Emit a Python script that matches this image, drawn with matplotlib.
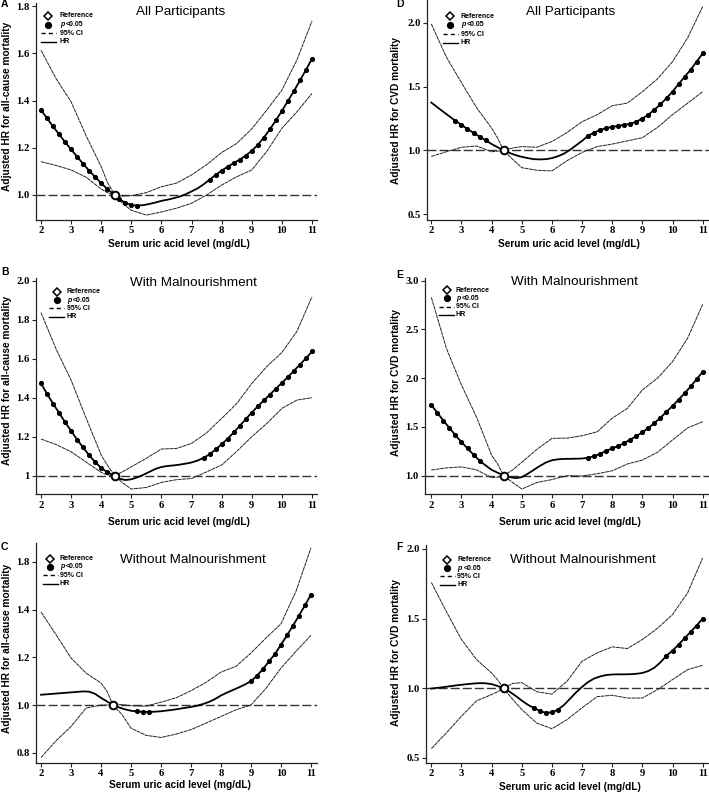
import numpy as np
import matplotlib
matplotlib.use("Agg")
import matplotlib.pyplot as plt
from matplotlib.lines import Line2D

W, H = 709, 793
SANS = "Liberation Sans"
SERIF = "Liberation Serif"
plt.rcParams["font.family"] = [SERIF, "DejaVu Serif"]
plt.rcParams["font.weight"] = "bold"

# ---------------- data ----------------
grid = np.round(np.arange(2.0, 11.0001, 0.2), 1)   # HR evaluated every 0.2 mg/dL

titles = ["All Participants", "With Malnourishment", "Without Malnourishment"]
ylab_all = "Adjusted HR for all-cause mortality"
ylab_cvd = "Adjusted HR for CVD mortality"
xlab = "Serum uric acid level (mg/dL)"

# Panel A (all-cause, all participants)
ref_A = 4.45
hr_A = [1.360, 1.325, 1.290, 1.257, 1.224, 1.193, 1.162, 1.132, 1.103, 1.076, 1.050,
        1.025, 1.005, 0.982, 0.967, 0.958, 0.955, 0.957, 0.962, 0.968, 0.975, 0.980,
        0.986, 0.993, 1.003, 1.015, 1.028, 1.045, 1.065, 1.085, 1.103, 1.120, 1.135,
        1.150, 1.167, 1.187, 1.212, 1.243, 1.278, 1.316, 1.356, 1.398, 1.440, 1.485,
        1.530, 1.577]
sig_A = [(2.0, 4.2), (4.6, 5.2), (7.6, 11.0)]
ci_x_A = [2.0, 2.5, 3.0, 3.5, 4.0, 4.2, 4.45, 4.7, 5.0, 5.5, 6.0, 6.5, 7.0, 7.5, 8.0,
          8.5, 9.0, 9.5, 10.0, 10.5, 11.0]
up_A = [1.613, 1.493, 1.394, 1.250, 1.120, 1.055, 1.000, 0.995, 0.997, 1.010, 1.035,
        1.050, 1.085, 1.128, 1.180, 1.218, 1.280, 1.360, 1.444, 1.572, 1.737]
lo_A = [1.141, 1.125, 1.106, 1.075, 1.025, 1.010, 1.000, 0.965, 0.935, 0.915, 0.928,
        0.944, 0.965, 1.000, 1.042, 1.077, 1.106, 1.185, 1.282, 1.352, 1.430]

# Panel B (all-cause, with malnourishment)
ref_B = 4.45
hr_B = [1.473, 1.420, 1.370, 1.322, 1.275, 1.230, 1.185, 1.145, 1.105, 1.070, 1.040,
        1.018, 1.003, 0.985, 0.978, 0.982, 0.992, 1.005, 1.020, 1.035, 1.045, 1.050,
        1.053, 1.057, 1.062, 1.068, 1.078, 1.092, 1.110, 1.135, 1.162, 1.190, 1.222,
        1.256, 1.290, 1.324, 1.356, 1.386, 1.416, 1.446, 1.476, 1.506, 1.538, 1.570,
        1.602, 1.637]
sig_B = [(2.0, 4.2), (7.4, 11.0)]
ci_x_B = [2.0, 2.5, 3.0, 3.5, 4.0, 4.2, 4.45, 4.7, 5.0, 5.5, 6.0, 6.5, 7.0, 7.5, 8.0,
          8.5, 9.0, 9.5, 10.0, 10.5, 11.0]
up_B = [1.836, 1.650, 1.490, 1.295, 1.106, 1.055, 1.000, 1.020, 1.046, 1.090, 1.137,
        1.140, 1.166, 1.220, 1.294, 1.370, 1.473, 1.560, 1.632, 1.740, 1.918]
lo_B = [1.188, 1.160, 1.123, 1.070, 1.017, 1.005, 1.000, 0.965, 0.932, 0.940, 0.966,
        0.980, 0.986, 1.020, 1.055, 1.125, 1.200, 1.268, 1.345, 1.388, 1.400]

# Panel C (all-cause, without malnourishment)
ref_C = 4.4
hr_C = [1.043, 1.045, 1.047, 1.049, 1.051, 1.053, 1.055, 1.057, 1.056, 1.047, 1.030,
        1.015, 1.000, 0.990, 0.982, 0.976, 0.973, 0.971, 0.971, 0.972, 0.974, 0.977,
        0.980, 0.984, 0.988, 0.992, 0.997, 1.004, 1.013, 1.025, 1.040, 1.052, 1.063,
        1.074, 1.086, 1.100, 1.123, 1.151, 1.183, 1.214, 1.253, 1.292, 1.333, 1.375,
        1.418, 1.463]
sig_C = [(5.2, 5.6), (9.0, 11.0)]
ci_x_C = [2.0, 2.5, 3.0, 3.5, 4.0, 4.2, 4.4, 4.7, 5.0, 5.5, 6.0, 6.5, 7.0, 7.5, 8.0,
          8.5, 9.0, 9.5, 10.0, 10.5, 11.0]
up_C = [1.390, 1.295, 1.197, 1.134, 1.092, 1.057, 1.000, 1.002, 0.997, 0.995, 1.012,
        1.030, 1.060, 1.095, 1.138, 1.162, 1.218, 1.281, 1.340, 1.477, 1.659]
lo_C = [0.780, 0.850, 0.910, 0.987, 1.000, 1.000, 1.000, 0.960, 0.903, 0.873, 0.864,
        0.878, 0.897, 0.924, 0.952, 0.980, 1.000, 1.070, 1.155, 1.225, 1.292]
ytick_C = [0.8, 1.0, 1.2, 1.4, 1.6]
ylabels_C = ["0.8", "1.0", "1.2", "1.4", "1.8"]

# Panel D (CVD, all participants)
ref_D = 4.4
hr_D = [1.375, 1.338, 1.302, 1.267, 1.232, 1.200, 1.168, 1.138, 1.108, 1.080, 1.050,
        1.025, 1.000, 0.980, 0.963, 0.950, 0.940, 0.932, 0.930, 0.932, 0.940, 0.955,
        0.975, 1.005, 1.040, 1.075, 1.115, 1.140, 1.160, 1.175, 1.185, 1.193, 1.200,
        1.210, 1.225, 1.250, 1.280, 1.320, 1.360, 1.410, 1.460, 1.520, 1.575, 1.632,
        1.695, 1.760]
sig_D = [(2.8, 3.8), (7.2, 11.0)]
ci_x_D = [2.0, 2.5, 3.0, 3.5, 4.0, 4.2, 4.4, 4.7, 5.0, 5.5, 6.0, 6.5, 7.0, 7.5, 8.0,
          8.5, 9.0, 9.5, 10.0, 10.5, 11.0]
up_D = [1.990, 1.730, 1.530, 1.335, 1.175, 1.096, 1.000, 1.020, 1.030, 1.025, 1.070,
        1.140, 1.225, 1.280, 1.350, 1.370, 1.460, 1.560, 1.695, 1.880, 2.125]
lo_D = [0.953, 0.990, 1.025, 1.035, 0.990, 0.995, 1.000, 0.930, 0.865, 0.845, 0.840,
        0.920, 0.985, 1.030, 1.050, 1.075, 1.100, 1.180, 1.280, 1.370, 1.460]

# Panel E (CVD, with malnourishment)
ref_E = 4.4
hr_E = [1.725, 1.645, 1.565, 1.490, 1.415, 1.345, 1.280, 1.215, 1.155, 1.105, 1.060,
        1.030, 1.005, 0.985, 0.975, 0.985, 1.020, 1.060, 1.100, 1.135, 1.158, 1.168,
        1.172, 1.173, 1.174, 1.176, 1.185, 1.200, 1.225, 1.255, 1.280, 1.305, 1.335,
        1.370, 1.405, 1.445, 1.490, 1.540, 1.595, 1.655, 1.715, 1.780, 1.845, 1.915,
        1.990, 2.065]
sig_E = [(2.0, 3.6), (7.2, 11.0)]
ci_x_E = [2.0, 2.5, 3.0, 3.5, 4.0, 4.2, 4.4, 4.7, 5.0, 5.5, 6.0, 6.5, 7.0, 7.5, 8.0,
          8.5, 9.0, 9.5, 10.0, 10.5, 11.0]
up_E = [2.830, 2.306, 1.930, 1.600, 1.210, 1.120, 1.000, 1.060, 1.137, 1.270, 1.383,
        1.385, 1.410, 1.450, 1.590, 1.690, 1.880, 2.000, 2.170, 2.410, 2.757]
lo_E = [1.058, 1.080, 1.090, 1.060, 0.980, 0.985, 1.000, 0.930, 0.863, 0.930, 0.960,
        1.000, 0.997, 1.020, 1.050, 1.120, 1.160, 1.240, 1.366, 1.490, 1.554]

# Panel F (CVD, without malnourishment)
ref_F = 4.4
hr_F = [0.998, 1.003, 1.008, 1.014, 1.020, 1.025, 1.030, 1.034, 1.037, 1.036, 1.030,
        1.016, 1.000, 0.975, 0.945, 0.912, 0.882, 0.859, 0.837, 0.824, 0.828, 0.847,
        0.880, 0.925, 0.970, 1.010, 1.045, 1.070, 1.085, 1.095, 1.099, 1.100, 1.100,
        1.101, 1.104, 1.110, 1.124, 1.148, 1.186, 1.234, 1.270, 1.313, 1.359, 1.404,
        1.450, 1.500]
sig_F = [(5.4, 6.2), (9.8, 11.0)]
ci_x_F = [2.0, 2.5, 3.0, 3.5, 4.0, 4.2, 4.4, 4.7, 5.0, 5.5, 6.0, 6.5, 7.0, 7.5, 8.0,
          8.5, 9.0, 9.5, 10.0, 10.5, 11.0]
up_F = [1.760, 1.550, 1.350, 1.206, 1.110, 1.060, 1.000, 1.035, 1.040, 0.975, 0.958,
        1.050, 1.194, 1.254, 1.297, 1.285, 1.350, 1.430, 1.529, 1.684, 1.935]
lo_F = [0.567, 0.680, 0.800, 0.910, 0.955, 0.975, 1.000, 0.920, 0.847, 0.750, 0.710,
        0.775, 0.860, 0.940, 0.950, 0.930, 0.930, 0.990, 1.062, 1.134, 1.165]

xticks = [2, 3, 4, 5, 6, 7, 8, 9, 10, 11]
legend_labels = ["Reference", "<0.05", "95% CI", "HR"]

# ---------------- layout (pixels) ----------------
fig = plt.figure(figsize=(W / 100, H / 100), dpi=100)


def fpx(px, py):
    return px / W, 1 - py / H


panels = [
    dict(letter="A", box=(36, 3, 317, 220), xlim=(1.834, 11.166), ylim=(0.894, 1.813),
         yt=[1.0, 1.2, 1.4, 1.6, 1.8], ytl=["1.0", "1.2", "1.4", "1.6", "1.8"],
         data=(ref_A, hr_A, sig_A, ci_x_A, up_A, lo_A), title=titles[0], ylab=ylab_all,
         let=(1, 4), tit=(181, 12), yl=(6.7, 106.7), xl=(179, 244),
         leg=(48.3, 60, [15.7, 24.7, 33.3, 41.7])),
    dict(letter="D", box=(426.7, 0, 709, 220), xlim=(1.847, 11.209), ylim=(0.456, 2.177),
         yt=[0.5, 1.0, 1.5, 2.0], ytl=["0.5", "1.0", "1.5", "2.0"],
         data=(ref_D, hr_D, sig_D, ci_x_D, up_D, lo_D), title=titles[0], ylab=ylab_cvd,
         let=(396, 4), tit=(570.7, 12.3), yl=(395.7, 110), xl=(569, 244),
         leg=(450, 460.7, [16, 25, 34, 42.7])),
    dict(letter="B", box=(36, 278.3, 317, 494.3), xlim=(1.834, 11.166), ylim=(0.905, 2.012),
         yt=[1.0, 1.2, 1.4, 1.6, 1.8, 2.0], ytl=["1", "1.2", "1.4", "1.6", "1.8", "2.0"],
         data=(ref_B, hr_B, sig_B, ci_x_B, up_B, lo_B), title=titles[1], ylab=ylab_all,
         let=(1, 272), tit=(193.7, 283.3), yl=(6.7, 380.7), xl=(179, 521.7),
         leg=(56.7, 66.7, [291.7, 300, 308.3, 316.7])),
    dict(letter="E", box=(425, 278.3, 709, 494.3), xlim=(1.79, 11.21), ylim=(0.809, 3.025),
         yt=[1.0, 1.5, 2.0, 2.5, 3.0], ytl=["1.0", "1.5", "2.0", "2.5", "3.0"],
         data=(ref_E, hr_E, sig_E, ci_x_E, up_E, lo_E), title=titles[1], ylab=ylab_cvd,
         let=(396, 275), tit=(574, 282.3), yl=(395.7, 382.3), xl=(569.7, 521.7),
         leg=(446.7, 455.7, [290, 298.3, 306.7, 315])),
    dict(letter="C", box=(36, 543, 317, 763), xlim=(1.833, 11.2), ylim=(0.757, 1.679),
         yt=ytick_C, ytl=ylabels_C,
         data=(ref_C, hr_C, sig_C, ci_x_C, up_C, lo_C), title=titles[2], ylab=ylab_all,
         let=(1, 547), tit=(192.5, 559.7), yl=(6.7, 648.7), xl=(180, 785),
         leg=(50, 60, [558.7, 567, 575.3, 583.7])),
    dict(letter="F", box=(425.7, 544.7, 709, 763), xlim=(1.814, 11.21), ylim=(0.464, 2.03),
         yt=[0.5, 1.0, 1.5, 2.0], ytl=["0.5", "1.0", "1.5", "2.0"],
         data=(ref_F, hr_F, sig_F, ci_x_F, up_F, lo_F), title=titles[2], ylab=ylab_cvd,
         let=(396, 547), tit=(583, 560.3), yl=(395.7, 652), xl=(570, 787.3),
         leg=(447.3, 457.3, [559.7, 568, 576.3, 584.7])),
]

for p in panels:
    x0, yt0, x1, yb = p["box"]
    ax = fig.add_axes([x0 / W, 1 - yb / H, (x1 - x0) / W, (yb - yt0) / H])
    ax.set_facecolor("none")
    for s in ("top", "right"):
        ax.spines[s].set_visible(False)
    for s in ("left", "bottom"):
        ax.spines[s].set_linewidth(0.9)
        ax.spines[s].set_color("#222222")
    ax.set_xlim(*p["xlim"])
    ax.set_ylim(*p["ylim"])
    ax.tick_params(direction="out", length=3, width=0.8, pad=1.5, color="#222222",
                   labelsize=7.7)
    ax.set_xticks(xticks, [str(t) for t in xticks])
    ax.set_yticks(p["yt"], p["ytl"])
    for lbl in ax.get_xticklabels() + ax.get_yticklabels():
        lbl.set_fontfamily(SERIF)
        lbl.set_fontweight("bold")

    ref_x, hr, sig, cx, up, lo = p["data"]
    hr = np.asarray(hr)
    ax.axhline(1.0, color="#333333", lw=1.0, dashes=(6.5, 2.2), zorder=1)
    ax.plot(cx, up, color="#222222", lw=0.7, dashes=(4.0, 0.6), zorder=2)
    ax.plot(cx, lo, color="#222222", lw=0.7, dashes=(4.0, 0.6), zorder=2)
    lx = np.concatenate([grid, [ref_x]])
    ly = np.concatenate([hr, [1.0]])
    order = np.argsort(lx, kind="stable")
    ax.plot(lx[order], ly[order], color="black", lw=1.3, zorder=3)
    mask = np.zeros(len(grid), bool)
    for a, b in sig:
        mask |= (grid >= a - 1e-9) & (grid <= b + 1e-9)
    ax.plot(grid[mask], hr[mask], "o", color="black", ms=2.7, ls="none", zorder=4)
    ax.plot([ref_x], [1.0], "o", mfc="white", mec="black", ms=5.5, mew=1.4, zorder=5)

    # axis labels
    ax.set_xlabel(xlab, fontfamily=SANS, fontweight="bold", fontsize=7.3)
    ax.set_ylabel(p["ylab"], fontfamily=SANS, fontweight="bold", fontsize=7.3)
    inv = ax.transAxes.inverted()
    xlp = inv.transform(fig.transFigure.transform(fpx(*p["xl"])))
    ylp = inv.transform(fig.transFigure.transform(fpx(*p["yl"])))
    ax.xaxis.set_label_coords(xlp[0], xlp[1])
    ax.xaxis.label.set_va("center")
    ax.yaxis.set_label_coords(ylp[0], ylp[1])
    ax.yaxis.label.set_va("center")

    # panel letter and title
    fig.text(*fpx(*p["let"]), p["letter"], fontfamily=SANS, fontweight="bold",
             fontsize=7.5, ha="left", va="center")
    fig.text(*fpx(*p["tit"]), p["title"], fontfamily=SANS, fontweight="normal",
             fontsize=9.7, ha="center", va="center")

    # legend
    gx, tx, rows = p["leg"]
    fx = gx / W
    fig.add_artist(Line2D([fx], [1 - rows[0] / H], marker="D", ms=3.6, mfc="white",
                          mec="black", mew=1.1, ls="none", transform=fig.transFigure))
    fig.add_artist(Line2D([fx], [1 - rows[1] / H], marker="o", ms=4.2, color="black",
                          ls="none", transform=fig.transFigure))
    fig.add_artist(Line2D([(gx - 7.5) / W, (gx + 7.5) / W], [1 - rows[2] / H] * 2,
                          color="black", lw=1.0, dashes=(3.0, 2.2),
                          transform=fig.transFigure))
    fig.add_artist(Line2D([(gx - 7.5) / W, (gx + 7.5) / W], [1 - rows[3] / H] * 2,
                          color="black", lw=1.0, transform=fig.transFigure))
    lk = dict(fontfamily=SANS, fontweight="bold", fontsize=5, ha="left", va="center")
    fig.text(*fpx(tx, rows[0]), legend_labels[0], **lk)
    fig.text(*fpx(tx, rows[1]), "p", style="italic", **lk)
    fig.text(*fpx(tx + 6, rows[1]), legend_labels[1], **lk)
    fig.text(*fpx(tx, rows[2]), legend_labels[2], **lk)
    fig.text(*fpx(tx, rows[3]), legend_labels[3], **lk)

fig.savefig("out.png", dpi=100, facecolor="white")
